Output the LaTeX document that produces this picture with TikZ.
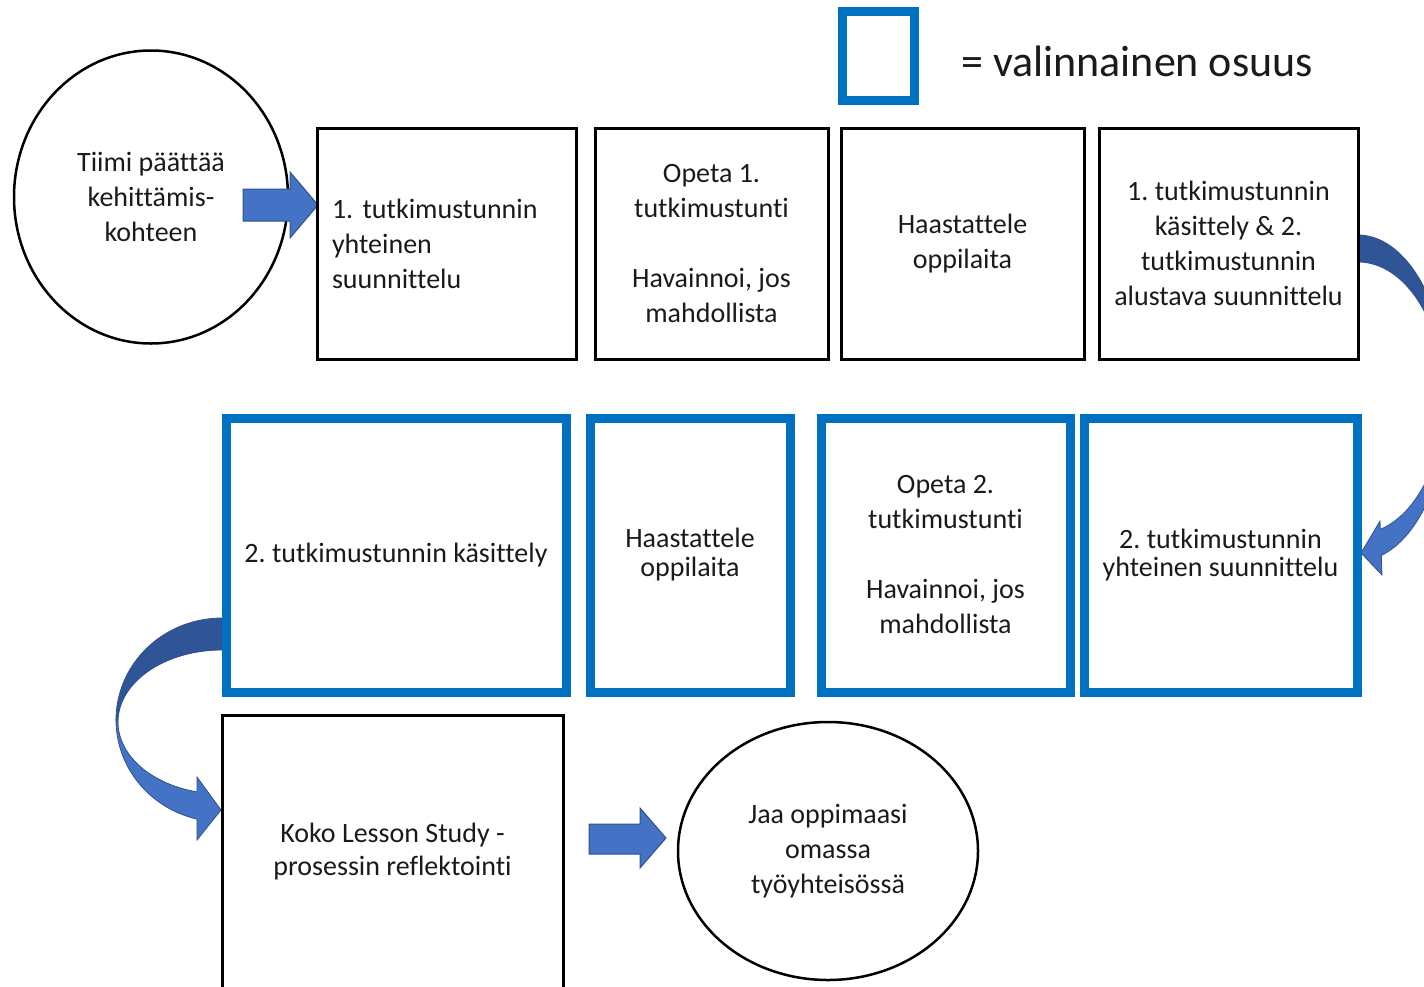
\documentclass[tikz,border=0pt]{standalone}
\usepackage{fontspec}
\setmainfont[Ligatures=NoCommon]{Carlito}
\frenchspacing
\usetikzlibrary{shapes.geometric}
\definecolor{optblue}{HTML}{0070C0}
\definecolor{arrlight}{HTML}{4472C4}
\definecolor{arrdark}{HTML}{2F5597}
\definecolor{arredge}{HTML}{2F528F}
\definecolor{txtc}{HTML}{1A1A1A}
\begin{document}
\frenchspacing
\begin{tikzpicture}[x=1pt,y=-1pt,
  txt/.style={font=\fontsize{28}{35}\selectfont, text=txtc, align=center, inner sep=0pt},
  blackbox/.style={draw=black, line width=3pt, rectangle, inner sep=0pt, txt},
  bluebox/.style={draw=optblue, line width=9pt, rectangle, inner sep=0pt, txt},
  oval/.style={draw=black, line width=2.5pt, ellipse, inner sep=0pt, txt},
  blockarrow/.style={fill=arrlight, draw=arredge, line width=1pt, line join=miter},
  backface/.style={fill=arrdark, draw=arredge, line width=0.8pt},
  frontface/.style={fill=arrlight, draw=arredge, line width=0.8pt, line join=miter}]
\useasboundingbox (0,0) rectangle (1424,986);
\clip (0,0) rectangle (1424,986);

% legend
\node[draw=optblue, line width=9pt, minimum width=72pt, minimum height=89pt, inner sep=0pt] (leg) at (878.5,55.5) {};
\node[anchor=base west, inner sep=0pt, text=txtc, font=\fontsize{44}{50}\selectfont] (legt) at (961,76) {= valinnainen osuus};

% circles
\node[oval, minimum width=274pt, minimum height=293pt] (c1) at (151,197) {Tiimi päättää\\kehittämis-\\kohteen};
\node[oval, minimum width=300pt, minimum height=258pt] (c2) at (828,851) {Jaa oppimaasi\\omassa\\työyhteisössä};

% block arrows
\filldraw[blockarrow] (243,189) -- (290,189) -- (290,172) -- (318,205) -- (290,238) -- (290,221) -- (243,221) -- cycle;
\filldraw[blockarrow] (589,824) -- (640,824) -- (640,808) -- (666,838) -- (640,868) -- (640,854) -- (589,854) -- cycle;

% curved arrow right
\filldraw[backface] plot[domain=-90:0, samples=40, variable=\t] ({1358+90*cos(\t)},{398+163*sin(\t)})
  -- plot[domain=0:-90, samples=40, variable=\t] ({1358+86*cos(\t)},{398+136*sin(\t)}) -- cycle;
\filldraw[frontface] plot[domain=0:75, samples=40, variable=\t] ({1358+90*cos(\t)},{398+163*sin(\t)})
  -- (1382,575) -- (1361,553) -- (1380,521)
  -- plot[domain=75:0, samples=40, variable=\t] ({1358+86*cos(\t)},{398+136*sin(\t)}) -- cycle;

% curved arrow left
\filldraw[backface] plot[domain=270:180, samples=40, variable=\t] ({222+106*cos(\t)},{720+102*sin(\t)})
  -- plot[domain=180:270, samples=40, variable=\t] ({222+104*cos(\t)},{722+72*sin(\t)}) -- cycle;
\filldraw[frontface] plot[domain=180:103.6, samples=40, variable=\t] ({222+106*cos(\t)},{720+102*sin(\t)})
  -- (197,840) -- (221,810) -- (197,777)
  -- plot[domain=103.9:180, samples=40, variable=\t] ({222+104*cos(\t)},{722+72*sin(\t)}) -- cycle;

% row 1
\node[blackbox, minimum width=259pt, minimum height=231pt, text width=229pt, align=left] (b1) at (446.5,243.5) {1. tutkimustunnin\\yhteinen\\suunnittelu};
\node[blackbox, minimum width=233pt, minimum height=231pt] (b2) at (711.5,243.5) {Opeta 1.\\tutkimustunti\\[35pt]Havainnoi, jos\\mahdollista};
\node[blackbox, minimum width=243pt, minimum height=231pt] (b3) at (962.5,243.5) {Haastattele\\oppilaita};
\node[blackbox, minimum width=259pt, minimum height=231pt] (b4) at (1228.5,243.5) {1. tutkimustunnin\\käsittely \& 2.\\tutkimustunnin\\alustava suunnittelu};

% row 2
\node[bluebox, minimum width=340pt, minimum height=274pt] (b5) at (396,555) {2. tutkimustunnin käsittely};
\node[bluebox, minimum width=200pt, minimum height=274pt, font=\fontsize{28}{29}\selectfont] (b6) at (690,555) {Haastattele\\oppilaita};
\node[bluebox, minimum width=249pt, minimum height=274pt] (b7) at (945.5,555) {Opeta 2.\\tutkimustunti\\[35pt]Havainnoi, jos\\mahdollista};
\node[bluebox, minimum width=273pt, minimum height=274pt, font=\fontsize{28}{28}\selectfont] (b8) at (1220.5,555) {2. tutkimustunnin\\yhteinen suunnittelu};

% row 3
\node[blackbox, minimum width=341pt, minimum height=300pt, anchor=north] (b9) at (392.5,714) {};
\node[txt, font=\fontsize{28}{33}\selectfont] (t9) at ([yshift=14pt]b9.center) {Koko Lesson Study -\\prosessin reflektointi};
\end{tikzpicture}
\end{document}
